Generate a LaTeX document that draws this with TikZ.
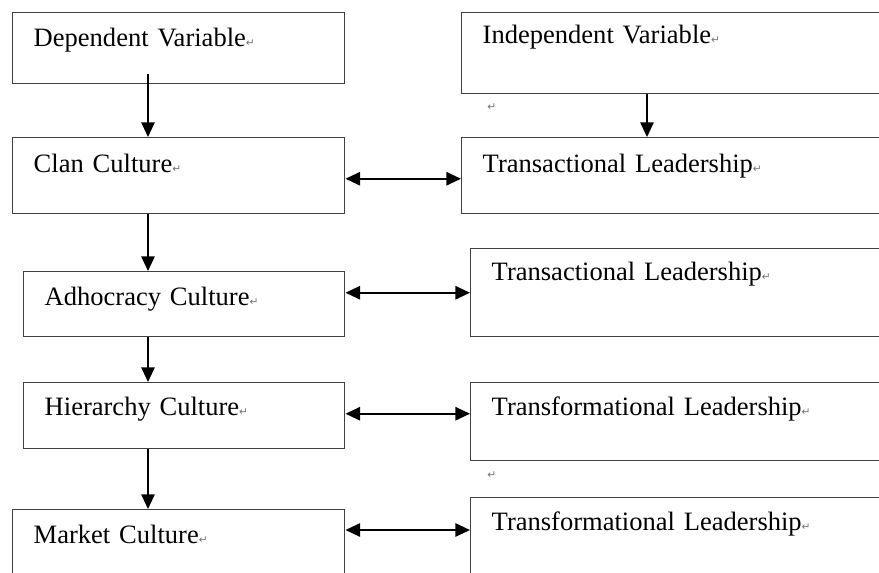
\documentclass[tikz,border=0pt]{standalone}
\usepackage{fontspec}
\setmainfont{Liberation Serif}
\newfontfamily\retfont{DejaVu Sans}
\usepackage{tikz}
\usetikzlibrary{arrows.meta,calc}
\newcommand{\pmk}{{\retfont\fontsize{8}{9}\selectfont\color{black!55}\char"21B5}}
\tikzset{
    box/.style = {draw=black!75, line width=1.1pt, rectangle, anchor=north west,
        inner xsep=15.75pt, inner ysep=0pt, align=left,
        font=\fontsize{19.9}{24}\selectfont},
    lbox/.style = {box, text width=217.5pt},
    sbox/.style = {box, text width=209.25pt},
    rbox/.style = {box, text width=312.75pt},
    tbox/.style = {box, text width=306pt},
    arrow/.style = {draw, -{Triangle[length=11pt,width=10pt]}, line width=1.4pt},
    biarrow/.style = {draw, {Triangle[length=11pt,width=10pt]}-{Triangle[length=11pt,width=10pt]}, line width=1.4pt},
    retnote/.style = {anchor=south west, inner sep=0pt}
}
\begin{document}
\begin{tikzpicture}[x=0.75pt, y=-0.75pt]
    \useasboundingbox (0,0) rectangle (879,572);
    \clip (0,0) rectangle (879,572);
    % left column
    \node [lbox, text height=25.5pt, text depth=27.75pt] (dep) at (12,12) {Dependent Variable\pmk};
    \node [lbox, text height=26.25pt, text depth=30.75pt] (clan) at (12,137) {Clan Culture\pmk};
    \node [sbox, text height=25.5pt, text depth=23.25pt] (adh) at (23,271) {Adhocracy Culture\pmk};
    \node [sbox, text height=24.75pt, text depth=24.75pt] (hie) at (23,382) {Hierarchy Culture\pmk};
    \node [lbox, text height=25.5pt, text depth=42.75pt] (mkt) at (12,509) {Market Culture\pmk};
    % right column
    \node [rbox, text height=23.25pt, text depth=37.5pt] (ind) at (461,12) {Independent Variable\pmk};
    \node [rbox, text height=26.25pt, text depth=30.75pt] (trA) at (461,137) {Transactional Leadership\pmk};
    \node [tbox, text height=24pt, text depth=42pt] (trB) at (470,248) {Transactional Leadership\pmk};
    \node [tbox, text height=24.75pt, text depth=33.75pt] (tfA) at (470,382) {Transformational Leadership\pmk};
    \node [tbox, text height=24.75pt, text depth=52.5pt] (tfB) at (470,497) {Transformational Leadership\pmk};
    \node [retnote] (m1) at (487,111) {\pmk};
    \node [retnote] (m2) at (487,479) {\pmk};
    \coordinate (lx) at (148,0);
    \coordinate (rx) at (647,0);
    \draw [arrow] ($(dep.south -| lx)+(0,-10)$) -- (clan.north -| lx);
    \draw [arrow] (clan.south -| lx) -- (adh.north -| lx);
    \draw [arrow] (adh.south -| lx) -- (hie.north -| lx);
    \draw [arrow] (hie.south -| lx) -- (mkt.north -| lx);
    \draw [arrow] (ind.south -| rx) -- (trA.north -| rx);
    \draw [biarrow] ([yshift=-2.25pt]clan.east) -- ([yshift=-2.25pt]clan.east -| trA.west);
    \draw [biarrow] (adh.east |- trB.west) -- (trB.west);
    \draw [biarrow] ([yshift=1.5pt]hie.east) -- ([yshift=1.5pt]hie.east -| tfA.west);
    \draw [biarrow] ([yshift=-15.75pt]mkt.north east) -- ([yshift=-15.75pt]mkt.north east -| tfB.west);
\end{tikzpicture}
\end{document}
